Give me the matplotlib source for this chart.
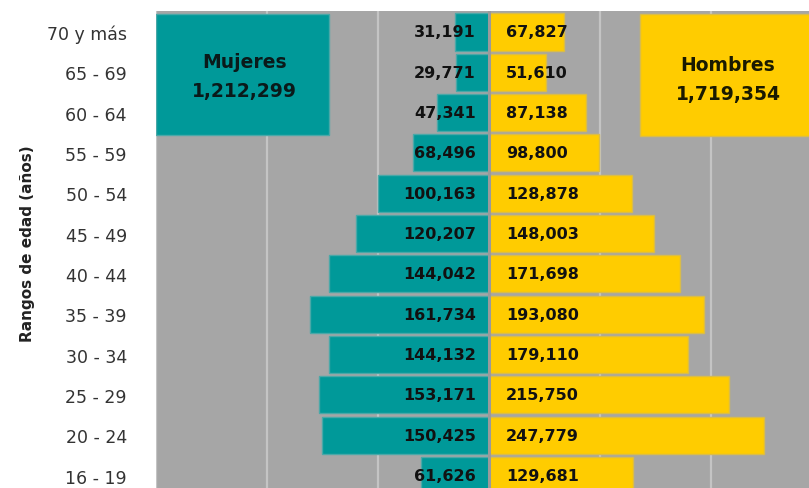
import numpy as np
import matplotlib
matplotlib.use("Agg")
import matplotlib.pyplot as plt
from matplotlib.patches import Rectangle

plt.rcParams["font.family"] = "DejaVu Sans"

# age groups, top to bottom
edades = ["70 y más", "65 - 69", "60 - 64", "55 - 59", "50 - 54", "45 - 49",
          "40 - 44", "35 - 39", "30 - 34", "25 - 29", "20 - 24", "16 - 19"]
mujeres = [31191, 29771, 47341, 68496, 100163, 120207,
           144042, 161734, 144132, 153171, 150425, 61626]
hombres = [67827, 51610, 87138, 98800, 128878, 148003,
           171698, 193080, 179110, 215750, 247779, 129681]
total_mujeres = "1,212,299"
total_hombres = "1,719,354"

teal = "#009999"
amarillo = "#FFCC00"
fondo = "#A6A6A6"

fig = plt.figure(figsize=(8.09, 4.89), dpi=100)
ax = fig.add_axes([156 / 809, 0.0, 1 - 156 / 809, 1 - 12 / 489])
ax.set_facecolor(fondo)

y = np.arange(len(edades))
ax.barh(y, -np.array(mujeres), height=0.92, color=teal,
        edgecolor="#4aa8a8", linewidth=1.0, zorder=3)
ax.barh(y, hombres, height=0.92, color=amarillo,
        edgecolor="#d9bc4a", linewidth=1.0, zorder=3)
# thin gap between both halves
ax.axvline(0, color="#9a9a9a", linewidth=2.2, zorder=4)

for i in range(len(edades)):
    ax.text(-12000, y[i], f"{mujeres[i]:,}", ha="right", va="center",
            fontsize=11.5, fontweight="bold", color="#111111", zorder=5)
    ax.text(15000, y[i], f"{hombres[i]:,}", ha="left", va="center",
            fontsize=11.5, fontweight="bold", color="#111111", zorder=5)

ax.set_xlim(-300000, 288000)
ax.set_ylim(len(edades) - 0.69, -0.52)
ax.set_xticks([-300000, -200000, -100000, 100000, 200000])
ax.xaxis.grid(True, color="#C4C4C4", linewidth=1.6, zorder=0)
ax.set_axisbelow(True)
ax.tick_params(axis="x", bottom=False, labelbottom=False)
ax.set_yticks(y)
ax.set_yticklabels(edades, fontsize=12.5, color="#333333")
ax.tick_params(axis="y", length=0, pad=21)
for s in ax.spines.values():
    s.set_visible(False)

ax.set_ylabel("Rangos de edad (años)", fontsize=11, fontweight="bold",
              color="#222222")
ax.yaxis.set_label_coords(-0.185, 0.514)

# total boxes
ax.add_patch(Rectangle((0.0, 0.74), 0.265, 0.254, transform=ax.transAxes,
                       facecolor=teal, edgecolor="#4aa8a8", linewidth=1.0, zorder=6))
ax.text(0.136, 0.864, "Mujeres\n" + total_mujeres, transform=ax.transAxes,
        ha="center", va="center", fontsize=13.5, fontweight="bold",
        color="#0a1a1a", linespacing=1.65, zorder=7)
ax.add_patch(Rectangle((0.741, 0.738), 0.3, 0.256, transform=ax.transAxes,
                       facecolor=amarillo, edgecolor="#d9bc4a", linewidth=1.0,
                       zorder=6, clip_on=True))
ax.text(0.876, 0.858, "Hombres\n" + total_hombres, transform=ax.transAxes,
        ha="center", va="center", fontsize=13.5, fontweight="bold",
        color="#1a1a00", linespacing=1.65, zorder=7)

fig.savefig("out.png", dpi=100)
